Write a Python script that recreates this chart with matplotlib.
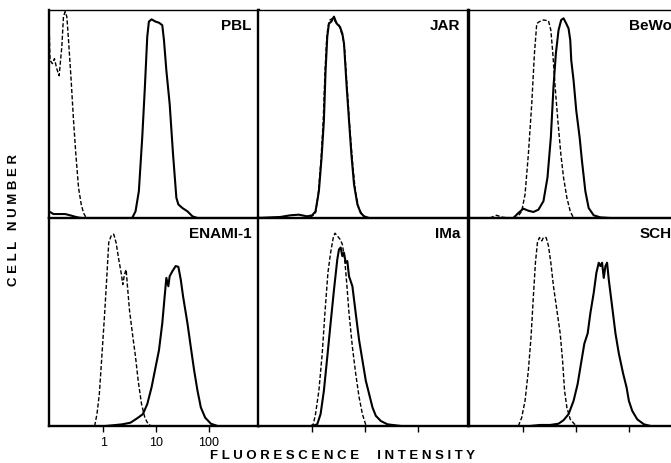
import numpy as np
import matplotlib.pyplot as plt

# x values: log10 of fluorescence intensity, y values: % of panel height
# dashed = control, solid = antibody
pbl_ctrl_x = [-1.03, -1.01, -0.965, -0.927, -0.883, -0.838, -0.787, -0.756, -0.724, -0.692,
              -0.66, -0.61, -0.565, -0.521, -0.47, -0.419, -0.375, -0.33, -0.279]
pbl_ctrl_y = [93.5, 75.8, 74.2, 76.6, 71.8, 68.4, 82.3, 96.8, 99.2, 96.8,
              85.5, 66.1, 46.8, 30.6, 14.5, 6.5, 2.4, 0.3, 0]
pbl_x = [-1.03, -0.946, -0.819, -0.724, -0.629, -0.533, -0.47, -0.406, -0.279, 0.165, 0.546,
         0.61, 0.673, 0.737, 0.787, 0.832, 0.863, 0.914, 0.99, 1.054, 1.117, 1.149, 1.194,
         1.257, 1.321, 1.384, 1.422, 1.498, 1.594, 1.689, 1.784, 2.07, 2.895]
pbl_y = [3.2, 1.9, 1.9, 1.9, 1.3, 0.6, 0.2, 0, 0, 0, 0,
         3.2, 12.9, 38.7, 62.9, 87.1, 94.4, 95.5, 94.4, 93.9, 92.7, 85.5, 71.0,
         54.8, 30.6, 9.7, 6.5, 4.8, 3.2, 0.8, 0, 0, 0]

jar_ctrl_x = [-0.035, 0.06, 0.111, 0.162, 0.206, 0.238, 0.27, 0.295, 0.333, 0.384, 0.435,
              0.505, 0.575, 0.613, 0.663, 0.714, 0.765, 0.816, 0.879, 0.943, 1.019]
jar_ctrl_y = [0.3, 2.4, 11.3, 27.4, 46.8, 69.4, 85.5, 91.9, 95.2, 96.0, 94.4,
              92.7, 87.1, 80.6, 61.3, 41.9, 25.8, 12.9, 4.8, 1.6, 0]
jar_x = [-1.051, -0.606, -0.416, -0.257, -0.098, -0.003, 0.06, 0.124, 0.175, 0.219, 0.251,
         0.283, 0.314, 0.359, 0.41, 0.46, 0.524, 0.568, 0.6, 0.651, 0.695, 0.74, 0.79,
         0.854, 0.917, 0.981, 1.076, 2.886]
jar_y = [0, 0.5, 1.3, 1.6, 0.8, 1.3, 3.2, 12.9, 29.0, 46.8, 71.0,
         87.1, 93.5, 94.4, 96.8, 93.5, 91.9, 88.7, 83.9, 62.9, 46.8, 30.6, 16.1,
         6.5, 2.4, 0.8, 0, 0]

bewo_ctrl_x = [-0.635, -0.508, -0.381, -0.127, -0.032, 0.032, 0.095, 0.159, 0.21, 0.254, 0.305,
               0.381, 0.476, 0.521, 0.559, 0.603, 0.654, 0.711, 0.762, 0.825, 0.889, 0.952]
bewo_ctrl_y = [0, 1.3, 0.3, 0, 3.2, 11.3, 30.6, 54.8, 79.0, 93.5, 94.4,
               95.2, 94.8, 90.3, 79.0, 62.9, 46.8, 30.6, 19.4, 9.7, 3.2, 0]
bewo_x = [-1.05, -0.19, -0.095, 0, 0.095, 0.19, 0.286, 0.381, 0.457, 0.521, 0.571, 0.616, 0.667,
          0.717, 0.762, 0.813, 0.857, 0.889, 0.908, 0.952, 1.003, 1.067, 1.111,
          1.175, 1.238, 1.333, 1.46, 1.651, 2.9]
bewo_y = [0, 0, 2.4, 4.5, 3.5, 2.9, 4.0, 8.1, 19.4, 38.7, 62.9, 79.0, 90.3,
          95.2, 96.0, 93.5, 91.1, 85.5, 75.8, 66.1, 51.6, 38.7, 27.4,
          12.9, 4.8, 1.3, 0.3, 0, 0]

enami_ctrl_x = [-0.165, -0.121, -0.076, -0.025, 0.025, 0.07, 0.102, 0.152, 0.197, 0.241, 0.292,
                0.343, 0.368, 0.4, 0.432, 0.457, 0.495, 0.559, 0.61, 0.66, 0.724, 0.787,
                0.851, 0.914]
enami_ctrl_y = [0, 5.7, 15.4, 34.8, 54.2, 73.6, 88.2, 91.7, 92.2, 88.2, 80.1,
                72.8, 68.0, 72.8, 75.2, 67.2, 55.8, 42.9, 33.2, 21.8, 10.5, 4.0,
                0.8, 0]
enami_x = [0.038, 0.165, 0.356, 0.514, 0.641, 0.749, 0.832, 0.914, 0.99, 1.054, 1.117,
           1.162, 1.194, 1.232, 1.257, 1.308, 1.371, 1.422, 1.467, 1.511, 1.594, 1.657,
           1.721, 1.784, 1.848, 1.93, 2.038, 2.165]
enami_y = [0, 0.3, 0.8, 1.6, 3.7, 5.7, 10.5, 18.6, 28.3, 36.4, 49.4,
           62.3, 71.2, 67.2, 72.0, 74.4, 76.9, 76.5, 70.4, 62.3, 49.4, 38.0,
           26.7, 17.0, 8.9, 4.0, 1.1, 0]

ima_ctrl_x = [-0.035, 0.016, 0.06, 0.124, 0.187, 0.238, 0.295, 0.346, 0.397, 0.429, 0.473,
              0.524, 0.568, 0.613, 0.651, 0.695, 0.759, 0.822, 0.886, 0.949, 1.013, 1.044]
ima_ctrl_y = [0, 0.8, 5.7, 17.0, 34.8, 54.2, 73.6, 83.3, 90.6, 92.7, 91.4,
              89.8, 87.4, 80.1, 68.8, 54.2, 38.0, 25.1, 13.8, 5.7, 0.5, 0]
ima_x = [-0.003, 0.092, 0.156, 0.219, 0.283, 0.346, 0.41, 0.473, 0.505, 0.537, 0.568,
         0.6, 0.632, 0.663, 0.695, 0.727, 0.759, 0.822, 0.886, 0.949, 1.013, 1.076,
         1.14, 1.203, 1.298, 1.425, 1.679]
ima_y = [0, 0.8, 5.7, 17.0, 33.2, 49.4, 65.5, 80.1, 84.9, 85.8, 81.7,
         83.3, 78.5, 79.3, 72.0, 69.6, 67.2, 54.2, 41.3, 31.6, 21.8, 15.4,
         8.9, 4.9, 2.4, 0.8, 0]

sch_ctrl_x = [-0.095, -0.032, 0.032, 0.095, 0.146, 0.19, 0.229, 0.267, 0.305, 0.349, 0.381,
              0.432, 0.476, 0.521, 0.571, 0.635, 0.698, 0.743, 0.781, 0.825, 0.889, 0.984,
              1.048]
sch_ctrl_y = [0, 4.0, 12.1, 26.7, 42.9, 62.3, 78.5, 88.2, 90.6, 89.0, 90.6,
              90.6, 86.6, 78.5, 67.2, 55.8, 44.5, 31.6, 17.0, 8.9, 3.2, 0.5,
              0]
sch_x = [0.127, 0.317, 0.508, 0.667, 0.762, 0.857, 0.952, 1.029, 1.092, 1.156, 1.219,
         1.27, 1.333, 1.384, 1.429, 1.46, 1.492, 1.524, 1.556, 1.587, 1.619, 1.683,
         1.746, 1.81, 1.892, 1.956, 2.0, 2.063, 2.159, 2.286, 2.413]
sch_y = [0, 0.5, 0.5, 1.1, 2.8, 5.7, 12.1, 20.2, 29.9, 39.6, 44.5,
         54.2, 63.9, 73.6, 78.5, 76.9, 78.5, 71.2, 76.9, 78.5, 70.4, 57.4,
         44.5, 34.8, 25.1, 18.6, 12.1, 7.3, 3.2, 0.8, 0]

names = ["PBL", "JAR", "BeWo", "ENAMI-1", "IMa", "SCH"]
controls = [(pbl_ctrl_x, pbl_ctrl_y), (jar_ctrl_x, jar_ctrl_y), (bewo_ctrl_x, bewo_ctrl_y),
            (enami_ctrl_x, enami_ctrl_y), (ima_ctrl_x, ima_ctrl_y), (sch_ctrl_x, sch_ctrl_y)]
stains = [(pbl_x, pbl_y), (jar_x, jar_y), (bewo_x, bewo_y),
          (enami_x, enami_y), (ima_x, ima_y), (sch_x, sch_y)]
tick_vals = [1, 10, 100]
tick_labels = ["1", "10", "100"]

plt.rcParams['font.family'] = ['Liberation Sans', 'DejaVu Sans']

W, H = 671, 464
fig = plt.figure(figsize=(W/100, H/100), dpi=100)

lefts = [49, 258, 469]
tops = [11, 219]
pw, ph = 210, 208

for i in range(6):
    r, c = divmod(i, 3)
    ax = fig.add_axes([lefts[c]/W, 1 - (tops[r]+ph)/H, pw/W, ph/H])
    cx, cy = controls[i]
    sx, sy = stains[i]
    ax.plot(10**np.array(cx), cy, color="black", lw=1.0, ls=(0, (3, 1.5)))
    ax.plot(10**np.array(sx), sy, color="black", lw=1.5)
    ax.set_xscale("log")
    ax.set_xlim(10**-1.03, 10**2.95)
    ax.set_ylim(0, 100)
    for s in ax.spines.values():
        s.set_linewidth(1.7)
    ax.spines["top"].set_linewidth(1.0)
    ax.set_yticks([])
    ax.minorticks_off()
    if r == 1:
        ax.set_xticks(tick_vals)
        ax.tick_params(axis="x", direction="out", length=4, width=1.0, pad=3)
        if c == 0:
            ax.set_xticklabels(tick_labels, fontsize=9)
        else:
            ax.set_xticklabels([])
    else:
        ax.set_xticks([])
    ax.text(0.965, 0.93, names[i], transform=ax.transAxes, ha="right", va="center",
            fontsize=11, fontweight="bold")

fig.text(14/W, 1 - 220/H, "C E L L   N U M B E R", rotation=90, ha="center", va="center",
         fontsize=9.5, fontweight="bold")
fig.text(342/W, 1 - 456/H, "F L U O R E S C E N C E     I N T E N S I T Y", ha="center",
         va="center", fontsize=9.5, fontweight="bold")

fig.savefig("out.png", dpi=100)
